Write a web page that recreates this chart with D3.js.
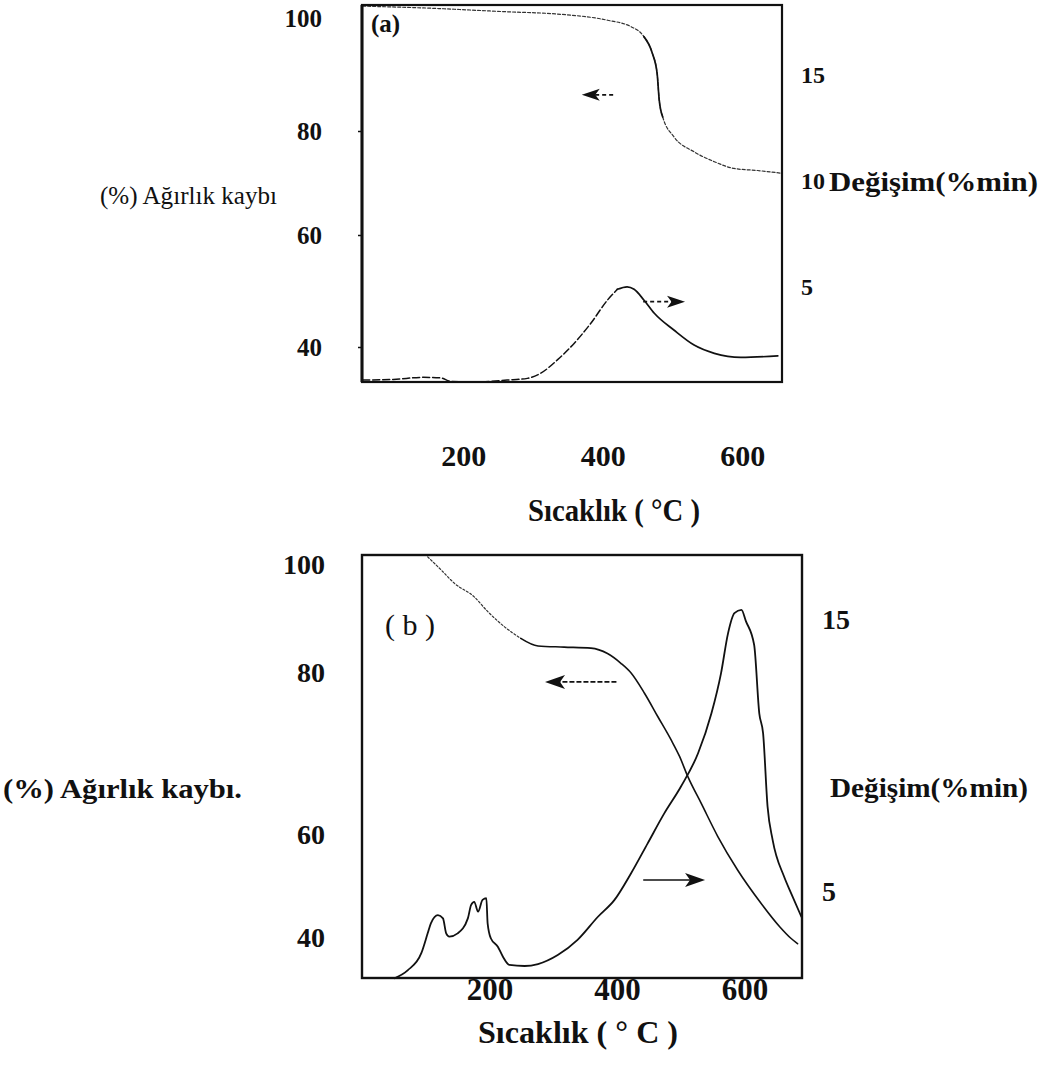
<!DOCTYPE html>
<html>
<head>
<meta charset="utf-8">
<script src="https://cdn.jsdelivr.net/npm/d3@7"></script>
<style>
  html, body { margin: 0; padding: 0; background: #ffffff; }
  svg { display: block; }
  text { font-family: "Liberation Serif", "Times New Roman", serif; fill: #111; }
</style>
</head>
<body>
<svg id="chart" width="1041" height="1075"></svg>
<script>
// ---- Panel (a): TG curve, temperature (°C) vs. remaining weight (%)
const tempTgA   = [56, 139, 263, 335, 407, 440, 459, 471, 478, 481, 486, 502, 531, 560, 588, 622, 655];
const weightTgA = [102.1, 101.8, 101.1, 100.7, 99.6, 98.5, 96.7, 93.8, 90.2, 85.5, 82.5, 78.9, 76.0, 74.1, 72.8, 72.4, 71.9];

// ---- Panel (a): DTG curve, temperature (°C) vs. rate of change (%/min)
const tempDtgA = [56, 100, 143, 168, 182, 215, 263, 292, 311, 335, 359, 383, 407, 421, 435, 445, 459, 474, 502, 531, 560, 598, 651];
const rateDtgA = [0.61, 0.64, 0.74, 0.71, 0.55, 0.52, 0.61, 0.69, 0.93, 1.56, 2.34, 3.29, 4.39, 4.89, 5.01, 4.89, 4.39, 3.76, 2.97, 2.26, 1.87, 1.68, 1.75];

// ---- Panel (b): TG curve
const tempTgB   = [103, 124, 145, 176, 197, 223, 249, 276, 317, 359, 385, 406, 422, 443, 464, 485, 498, 511, 532, 558, 589, 626, 655, 673, 683];
const weightTgB = [101.5, 99.1, 96.6, 94.1, 91.4, 88.6, 86.4, 85.0, 84.8, 84.6, 83.6, 81.8, 80.0, 77.5, 74.6, 71.7, 69.7, 67.2, 63.9, 59.7, 53.2, 46.7, 42.2, 39.9, 38.9];

// ---- Panel (b): DTG curve
const tempDtgB = [51, 72, 93, 103, 108, 119, 127, 132, 137, 150, 166, 171, 176, 182, 189, 195, 197, 202, 213, 221, 231, 255, 276, 307, 338, 370, 396, 422, 448, 474, 500, 527, 548, 563, 574, 584, 595, 602, 615, 623, 629, 636, 644, 662, 673, 689];
const rateDtgB = [1.83, 2.13, 2.75, 3.48, 3.85, 4.15, 4.03, 3.48, 3.36, 3.48, 4.03, 4.52, 4.64, 4.28, 4.71, 4.77, 3.85, 3.30, 2.99, 2.62, 2.32, 2.28, 2.35, 2.68, 3.24, 4.09, 4.71, 5.69, 6.79, 7.89, 8.87, 10.10, 11.57, 13.04, 14.51, 15.25, 15.37, 14.96, 14.08, 11.57, 10.83, 8.14, 6.91, 5.56, 4.95, 4.09];

// ---- Tick labels
const weightTicks = [100, 80, 60, 40];
const rateTicksA  = [15, 10, 5];
const rateTicksB  = [15, 5];
const tempTicks   = [200, 400, 600];

// ---- Direction arrows: which axis each curve belongs to (temperature span, level)
const arrowsA = [
  { from: 415, to: 370, level: 86.4, axis: "weight" },
  { from: 458, to: 518, level: 4.31, axis: "rate" }
];
const arrowsB = [
  { from: 399, to: 287, level: 78.9, axis: "weight" },
  { from: 441, to: 538, level: 5.44, axis: "rate" }
];

// ---- Texts
const weightTitle = "(%) Ağırlık kaybı";
const rateTitle   = "Değişim(%min)";
const tempTitleA  = "Sıcaklık ( °C )";
const tempTitleB  = "Sıcaklık ( ° C )";

const svg = d3.select("#chart");

// ---- Frames
const boxA = { left: 362, right: 782, top: 5, bottom: 382 };
const boxB = { left: 362, right: 802, top: 555, bottom: 978 };

// ---- Scales
const xA = d3.scaleLinear().domain([55, 657]).range([boxA.left, boxA.right]);
const yA = d3.scaleLinear().domain([100, 80, 60, 40]).range([18, 131, 235, 347]);
const rA = d3.scaleLinear().domain([5, 15]).range([287, 75]);

const xB = d3.scaleLinear().domain([0, 690]).range([boxB.left, boxB.right]);
const yB = d3.scaleLinear().domain([100, 80, 60, 40]).range([565, 673, 835, 938]);
const rB = d3.scaleLinear().domain([5, 15]).range([892, 620]);

function curve(x, y) {
  return d3.line().x(d => x(d[0])).y(d => y(d[1])).curve(d3.curveMonotoneX);
}

function drawPath(g, pts, x, y, style) {
  g.append("path")
    .datum(pts)
    .attr("d", curve(x, y))
    .attr("fill", "none")
    .attr("stroke", style.color || "#111")
    .attr("stroke-width", style.width || 1.5)
    .attr("stroke-dasharray", style.dash || null)
    .attr("stroke-linejoin", "round")
    .attr("stroke-linecap", "round");
}

function arrow(g, x1, y1, x2, y2, headLen, headHalf, dash) {
  const dir = Math.sign(x2 - x1);
  g.append("line")
    .attr("x1", x1).attr("y1", y1)
    .attr("x2", x2 - dir * headLen * 0.6).attr("y2", y2)
    .attr("stroke", "#111").attr("stroke-width", 1.6)
    .attr("stroke-dasharray", dash || null);
  g.append("path")
    .attr("d", `M${x2},${y2} L${x2 - dir * headLen},${y2 - headHalf} L${x2 - dir * headLen * 0.75},${y2} L${x2 - dir * headLen},${y2 + headHalf} Z`)
    .attr("fill", "#111");
}

function label(x, y, str, opts) {
  const t = svg.append("text")
    .attr("x", x).attr("y", y)
    .attr("dy", "0.35em")
    .attr("font-size", opts.size)
    .attr("font-weight", opts.weight || "bold")
    .attr("text-anchor", opts.anchor || "start")
    .text(str);
  if (opts.width) t.attr("textLength", opts.width).attr("lengthAdjust", "spacingAndGlyphs");
  return t;
}

function styleAxis(g, size) {
  g.select(".domain").remove();
  g.selectAll("text")
    .attr("font-size", size)
    .attr("font-weight", "bold")
    .attr("font-family", "\"Liberation Serif\", \"Times New Roman\", serif")
    .attr("fill", "#111");
  g.selectAll("line").attr("stroke", "#111").attr("stroke-width", 1.5);
}

// ================= Panel (a) =================
const gA = svg.append("g");

// weight axis (left)
const axLA = gA.append("g").attr("transform", `translate(${boxA.left},0)`)
  .call(d3.axisLeft(yA).tickValues(weightTicks).tickSize(4).tickPadding(36).tickFormat(d3.format("d")));
styleAxis(axLA, 25);
axLA.selectAll(".tick").filter(d => d === 100).select("line").remove();

// rate axis (right)
const axRA = gA.append("g").attr("transform", `translate(${boxA.right},0)`)
  .call(d3.axisRight(rA).tickValues(rateTicksA).tickSize(0).tickPadding(19).tickFormat(d3.format("d")));
styleAxis(axRA, 24);

// temperature axis (tick labels well below the frame)
const axBA = gA.append("g").attr("transform", "translate(0,455)")
  .call(d3.axisBottom(xA).tickValues(tempTicks).tickSize(0).tickFormat(d3.format("d")));
styleAxis(axBA, 30);
axBA.selectAll("text").attr("y", 0).attr("dy", "0.36em");

// curves
const tgA = d3.zip(tempTgA, weightTgA);
const dtgA = d3.zip(tempDtgA, rateDtgA);
drawPath(gA, tgA, xA, yA, { color: "#333", width: 1.2, dash: "3 2" });
drawPath(gA, tgA.filter(d => d[0] >= 459 && d[0] <= 486), xA, yA, { color: "#111", width: 1.7 });
drawPath(gA, dtgA.filter(d => d[0] <= 421), xA, rA, { color: "#111", width: 1.5, dash: "7 3" });
drawPath(gA, dtgA.filter(d => d[0] >= 421), xA, rA, { color: "#111", width: 1.7 });

// arrows
arrowsA.forEach(a => {
  const y = a.axis === "weight" ? yA(a.level) : rA(a.level);
  arrow(gA, xA(a.from), y, xA(a.to), y, 18, 6, "4 3");
});

// frame
gA.append("rect")
  .attr("x", boxA.left).attr("y", boxA.top)
  .attr("width", boxA.right - boxA.left).attr("height", boxA.bottom - boxA.top)
  .attr("fill", "none").attr("stroke", "#111").attr("stroke-width", 2.2);
gA.append("line").attr("x1", boxA.left).attr("x2", boxA.left)
  .attr("y1", boxA.top).attr("y2", boxA.bottom)
  .attr("stroke", "#111").attr("stroke-width", 3);

label(371, 23, "(a)", { size: 25, weight: "bold" });
label(100, 195, weightTitle, { size: 25, weight: "normal", width: 177 });
label(829, 182, rateTitle, { size: 27, weight: "bold", width: 209 });
label(614, 510, tempTitleA, { size: 32, weight: "bold", anchor: "middle", width: 172 });

// ================= Panel (b) =================
const gB = svg.append("g");

const axLB = gB.append("g").attr("transform", `translate(${boxB.left},0)`)
  .call(d3.axisLeft(yB).tickValues(weightTicks).tickSize(0).tickPadding(37).tickFormat(d3.format("d")));
styleAxis(axLB, 28);

const axRB = gB.append("g").attr("transform", `translate(${boxB.right},0)`)
  .call(d3.axisRight(rB).tickValues(rateTicksB).tickSize(0).tickPadding(20).tickFormat(d3.format("d")));
styleAxis(axRB, 28);

const axBB = gB.append("g").attr("transform", "translate(0,989)")
  .call(d3.axisBottom(xB).tickValues(tempTicks).tickSize(0).tickFormat(d3.format("d")));
styleAxis(axBB, 31);
axBB.selectAll("text").attr("y", 0).attr("dy", "0.36em");

const tgB = d3.zip(tempTgB, weightTgB);
const dtgB = d3.zip(tempDtgB, rateDtgB);
drawPath(gB, tgB.filter(d => d[0] <= 249), xB, yB, { color: "#333", width: 1.2, dash: "2 2" });
drawPath(gB, tgB.filter(d => d[0] >= 249), xB, yB, { color: "#111", width: 1.6 });
drawPath(gB, dtgB, xB, rB, { color: "#111", width: 1.8 });

arrowsB.forEach(a => {
  const y = a.axis === "weight" ? yB(a.level) : rB(a.level);
  arrow(gB, xB(a.from), y, xB(a.to), y, 20, 7, a.axis === "weight" ? "5 2" : null);
});

gB.append("rect")
  .attr("x", boxB.left).attr("y", boxB.top)
  .attr("width", boxB.right - boxB.left).attr("height", boxB.bottom - boxB.top)
  .attr("fill", "none").attr("stroke", "#111").attr("stroke-width", 2.4);

label(385, 624, "( b )", { size: 30, weight: "normal" });
label(3, 788, weightTitle + ".", { size: 28, weight: "bold", width: 239 });
label(830, 787, rateTitle, { size: 28, weight: "bold", width: 198 });
label(578, 1032, tempTitleB, { size: 32, weight: "bold", anchor: "middle", width: 200 });
</script>
</body>
</html>
